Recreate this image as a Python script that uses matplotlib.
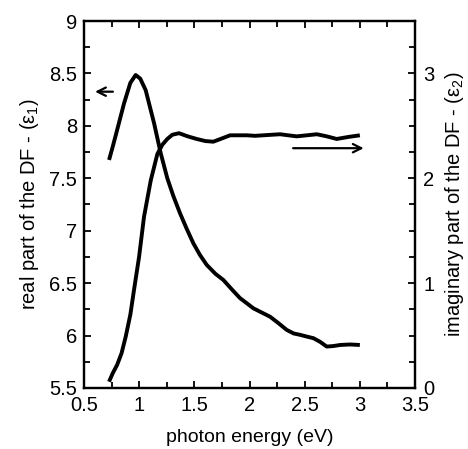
import numpy as np
import matplotlib
matplotlib.use("Agg")
import matplotlib.pyplot as plt
from matplotlib.ticker import MultipleLocator

plt.rcParams['font.family'] = ['Liberation Sans', 'DejaVu Sans']
plt.rcParams['mathtext.fontset'] = 'custom'
plt.rcParams['mathtext.rm'] = 'Liberation Sans'
plt.rcParams['mathtext.it'] = 'Liberation Sans:italic'

# real part eps1 (left axis)
e1_x = [0.727, 0.76, 0.80, 0.863, 0.92, 0.968, 1.01, 1.059, 1.135, 1.195, 1.255, 1.31,
        1.37, 1.43, 1.491, 1.55, 1.612, 1.69, 1.763, 1.84, 1.914, 2.035, 2.11, 2.186,
        2.26, 2.337, 2.40, 2.458, 2.52, 2.579, 2.64, 2.70, 2.76, 2.82, 2.91, 3.0]
e1_y = [7.675, 7.80, 7.96, 8.215, 8.41, 8.485, 8.45, 8.34, 8.025, 7.74, 7.50, 7.33,
        7.167, 7.02, 6.88, 6.77, 6.674, 6.59, 6.53, 6.44, 6.357, 6.26, 6.22, 6.18,
        6.12, 6.054, 6.02, 6.007, 5.99, 5.975, 5.94, 5.895, 5.90, 5.91, 5.915, 5.91]

# imaginary part eps2 (right axis)
e2_x = [0.727, 0.76, 0.80, 0.84, 0.878, 0.92, 0.953, 0.999, 1.044, 1.105, 1.165, 1.21,
        1.255, 1.30, 1.361, 1.44, 1.521, 1.60, 1.672, 1.75, 1.824, 1.90, 1.975, 2.05,
        2.126, 2.20, 2.277, 2.35, 2.428, 2.52, 2.61, 2.70, 2.79, 2.90, 3.0]
e2_y = [0.06, 0.14, 0.22, 0.33, 0.49, 0.70, 0.934, 1.25, 1.634, 1.98, 2.232, 2.32,
        2.375, 2.415, 2.43, 2.40, 2.375, 2.355, 2.349, 2.38, 2.41, 2.41, 2.41, 2.405,
        2.41, 2.415, 2.42, 2.41, 2.40, 2.41, 2.42, 2.40, 2.375, 2.395, 2.41]

fig = plt.figure(figsize=(4.68, 4.49), dpi=100)
ax = fig.add_axes([0.1795, 0.1359, 0.7073, 0.8173])
ax2 = ax.twinx()

ax.plot(e1_x, e1_y, color='black', lw=2.8, solid_capstyle='butt', solid_joinstyle='round')
ax2.plot(e2_x, e2_y, color='black', lw=2.8, solid_capstyle='butt', solid_joinstyle='round')

ax.set_xlim(0.5, 3.5)
ax.set_ylim(5.5, 9)
ax2.set_ylim(0, 3.5)

ax.xaxis.set_minor_locator(MultipleLocator(0.25))
ax.yaxis.set_minor_locator(MultipleLocator(0.25))
ax2.yaxis.set_minor_locator(MultipleLocator(0.25))

ax.set_xticks([0.5, 1, 1.5, 2, 2.5, 3, 3.5])
ax.set_xticklabels(['0.5', '1', '1.5', '2', '2.5', '3', '3.5'])
ax.set_yticks([5.5, 6, 6.5, 7, 7.5, 8, 8.5, 9])
ax.set_yticklabels(['5.5', '6', '6.5', '7', '7.5', '8', '8.5', '9'])
ax2.set_yticks([0, 1, 2, 3])
ax2.set_yticklabels(['0', '1', '2', '3'])

ax.tick_params(axis='both', which='both', direction='in', top=True, labelsize=14.5, width=1.3)
ax.tick_params(axis='x', which='major', pad=6)
ax.tick_params(axis='y', which='both', right=False, pad=5)
ax.tick_params(which='major', length=5)
ax.tick_params(which='minor', length=4)
ax2.tick_params(axis='y', which='both', direction='in', labelsize=14.5, width=1.3, pad=6)
ax2.tick_params(which='major', length=5)
ax2.tick_params(which='minor', length=4)

for a in (ax, ax2):
    for s in a.spines.values():
        s.set_linewidth(1.6)

ax.set_xlabel('photon energy (eV)', fontsize=14, labelpad=10)
ax.set_ylabel('real part of the DF - (ε$_1$)', fontsize=14.5, labelpad=6)
ax2.set_ylabel('imaginary part of the DF - (ε$_2$)', fontsize=14.5, labelpad=6)

ax.annotate('', xy=(0.575, 8.326), xytext=(0.787, 8.326),
            arrowprops=dict(arrowstyle='->,head_length=0.6,head_width=0.3', color='black', lw=1.6))
ax.annotate('', xy=(3.06, 7.787), xytext=(2.37, 7.787),
            arrowprops=dict(arrowstyle='->,head_length=0.6,head_width=0.3', color='black', lw=1.6))

fig.savefig('out.png', dpi=100)
